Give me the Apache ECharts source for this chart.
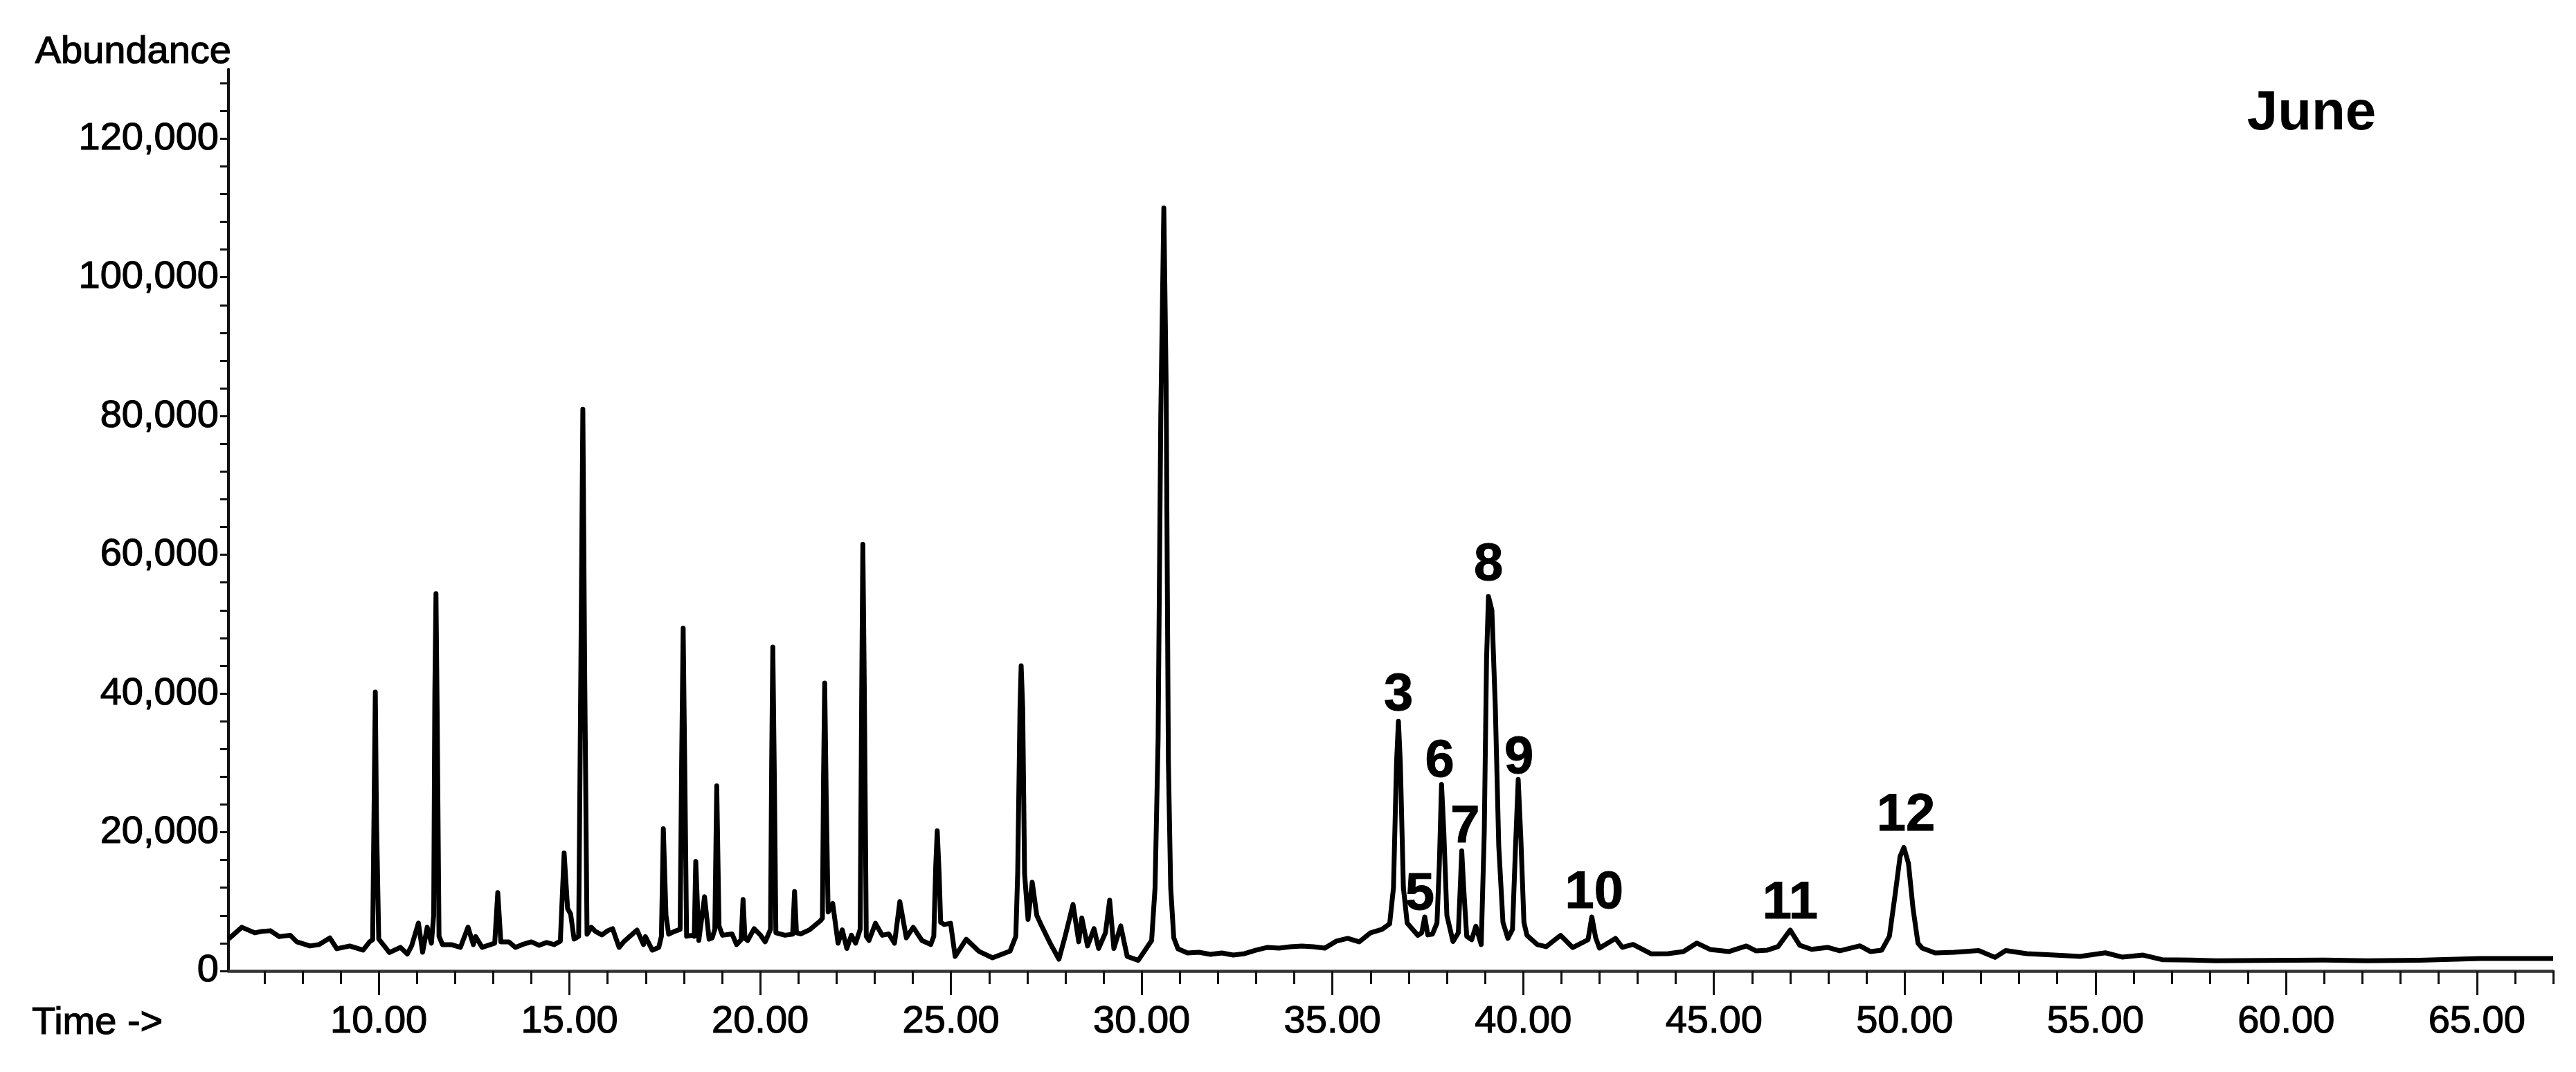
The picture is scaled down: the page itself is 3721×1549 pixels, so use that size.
<!DOCTYPE html>
<html>
<head>
<meta charset="utf-8">
<title>June chromatogram</title>
<script src="https://cdn.jsdelivr.net/npm/echarts@6/dist/echarts.min.js"></script>
<style>
html, body { margin: 0; padding: 0; background: #fff; }
#chart { width: 3721px; height: 1549px; }
</style>
</head>
<body>
<div id="chart"></div>
<script>
// trace: retention time (min) and abundance
const retentionTime = [
  6.06, 6.41, 6.75, 6.93, 7.16, 7.39, 7.68, 7.85, 8.20, 8.43, 8.72, 8.90, 9.24, 9.59, 9.76,
  9.84, 9.88, 9.91, 9.94, 10.00, 10.28, 10.57, 10.75, 10.86, 11.04, 11.15, 11.27, 11.38,
  11.44, 11.47, 11.50, 11.53, 11.58, 11.67, 11.90, 12.14, 12.34, 12.48, 12.54, 12.71,
  13.04, 13.12, 13.20, 13.41, 13.58, 13.76, 14.00, 14.20, 14.40, 14.60, 14.76, 14.86, 14.95,
  15.03, 15.12, 15.24, 15.30, 15.35, 15.40, 15.46, 15.57, 15.68, 15.85, 16.00, 16.13, 16.30,
  16.42, 16.77, 16.94, 16.99, 17.17, 17.34, 17.41, 17.46, 17.53, 17.60, 17.75, 17.90, 17.94,
  17.98, 18.02, 18.07, 18.22, 18.27, 18.31, 18.39, 18.54, 18.66, 18.74, 18.81, 18.86, 18.92,
  19.01, 19.26, 19.38, 19.50, 19.55, 19.60, 19.67, 19.84, 20.01, 20.13, 20.27, 20.30, 20.33,
  20.37, 20.41, 20.65, 20.85, 20.90, 20.95, 21.06, 21.29, 21.58, 21.63, 21.66, 21.69, 21.73,
  21.78, 21.90, 22.04, 22.15, 22.27, 22.39, 22.50, 22.62, 22.66, 22.69, 22.73, 22.78, 22.85,
  23.02, 23.20, 23.37, 23.52, 23.66, 23.83, 24.01, 24.24, 24.47, 24.55, 24.60, 24.64, 24.69,
  24.73, 24.82, 24.99, 25.11, 25.40, 25.74, 26.09, 26.55, 26.70, 26.75, 26.81, 26.84, 26.88,
  26.93, 27.02, 27.13, 27.25, 27.36, 27.60, 27.83, 28.00, 28.20, 28.35, 28.43, 28.58, 28.75,
  28.87, 29.05, 29.16, 29.27, 29.45, 29.62, 29.91, 30.26, 30.35, 30.43, 30.50, 30.58, 30.64,
  30.70, 30.76, 30.84, 30.95, 31.20, 31.50, 31.80, 32.10, 32.40, 32.70, 33.00, 33.30, 33.60,
  33.90, 34.20, 34.50, 34.80, 35.10, 35.40, 35.70, 36.00, 36.30, 36.50, 36.60, 36.68, 36.73,
  36.78, 36.86, 36.96, 37.24, 37.34, 37.42, 37.50, 37.62, 37.74, 37.80, 37.86, 37.92, 38.00,
  38.16, 38.30, 38.35, 38.39, 38.44, 38.52, 38.65, 38.76, 38.90, 38.98, 39.04, 39.09, 39.18,
  39.27, 39.36, 39.47, 39.60, 39.72, 39.80, 39.87, 39.94, 40.02, 40.10, 40.37, 40.60, 40.98,
  41.30, 41.70, 41.80, 41.90, 42.00, 42.42, 42.60, 42.88, 43.35, 43.80, 44.20, 44.55, 44.90,
  45.40, 45.85, 46.10, 46.40, 46.68, 47.00, 47.25, 47.56, 47.98, 48.30, 48.83, 49.10, 49.40,
  49.60, 49.75, 49.88, 49.98, 50.10, 50.22, 50.35, 50.46, 50.80, 51.30, 51.94, 52.37, 52.65,
  53.20, 53.92, 54.60, 55.26, 55.70, 56.25, 56.75, 57.50, 58.16, 59.50, 61.00, 62.12, 63.50,
  65.09, 66.92, 67.00
];
const abundance = [
  4600, 6300, 5500, 5700, 5800, 4950, 5150, 4200, 3600, 3800, 4760, 3200, 3600, 3000, 4200,
  4500, 25000, 40200, 22000, 4600, 2650, 3400, 2450, 3600, 6900, 2700, 6300, 4000,
  8000, 40000, 54400, 38000, 5000, 3800, 3800, 3400, 6300, 3800, 4950, 3400,
  4000, 11300, 4200, 4200, 3400, 3800, 4200, 3700, 4100, 3800, 4300, 17000, 9000,
  8200, 4600, 5000, 45000, 81000, 42000, 5300, 6300, 5700, 5200, 5800, 6100, 3400,
  4200, 5900, 3800, 4950, 3000, 3400, 5000, 20500, 8000, 5300, 5700, 6000, 30000,
  49400, 30000, 5000, 5150, 5000, 15800, 4400, 10700, 4580, 4770, 6000, 26700, 6500,
  5150, 5340, 3800, 4500, 10300, 4700, 4390, 6100, 5150, 4200, 6000, 30000, 46700,
  28000, 5500, 5150, 5300, 11450, 5500, 5340, 5920, 7250, 7600, 28000, 41500, 25000,
  8500, 9730, 4000, 5920, 3240, 5150, 4000, 6000, 40000, 61500, 40000, 5000, 4390,
  6870, 5150, 5340, 4000, 10000, 4770, 6300, 4390, 3820, 5000, 15000, 20200, 14000,
  7000, 6700, 6870, 2100, 4580, 2800, 1900, 2860, 5000, 14300, 38000, 44000, 38000,
  14000, 7440, 12790, 8000, 6680, 4000, 1700, 5150, 9600, 4200, 7630, 3600, 6100,
  3240, 5500, 10200, 3240, 6490, 2100, 1530, 4390, 12000, 33400, 80000, 110000, 85000,
  30000, 12000, 4800, 3200, 2600, 2700, 2400, 2600, 2300, 2500, 3000, 3400, 3300,
  3500, 3600, 3500, 3300, 4300, 4700, 4200, 5500, 6000, 6800, 12000, 30000, 36000,
  30000, 12000, 6900, 5130, 5500, 7790, 5200, 5300, 6900, 15000, 26900, 20000, 8000,
  4240, 5500, 12000, 17300, 12000, 5000, 4500, 6460, 3800, 20000, 45000, 54000, 52000,
  38000, 18000, 7000, 4690, 6000, 18000, 27600, 19000, 7000, 5130, 3800, 3500, 5130,
  3370, 4500, 7790, 4800, 3300, 4690, 3400, 3820, 2480, 2500, 2800, 4020, 3100,
  2800, 3600, 2900, 3000, 3500, 5900, 3700, 3120, 3400, 2900, 3620, 2800, 3000,
  5000, 11000, 16500, 17800, 15500, 9000, 4000, 3290, 2600, 2700, 2950, 1960, 2950,
  2500, 2290, 2100, 2620, 2000, 2290, 1630, 1560, 1480, 1520, 1560, 1460, 1550,
  1800, 1800, 1800
];

// numbered peaks: label text and where the label sits (time, abundance)
const peakNames = ['3', '5', '6', '7', '8', '9', '10', '11', '12'];
const peakLabelTime = [36.73, 37.29, 37.81, 38.48, 39.09, 39.89, 41.86, 47.0, 50.03];
const peakLabelAbundance = [39700, 11000, 30100, 20600, 58500, 30600, 11200, 9700, 22300];

// axis ticks
const majorTimeTicks = [10, 15, 20, 25, 30, 35, 40, 45, 50, 55, 60, 65];
const minorTimeTicks = [7, 8, 9, 11, 12, 13, 14, 16, 17, 18, 19, 21, 22, 23, 24, 26, 27, 28, 29,
  31, 32, 33, 34, 36, 37, 38, 39, 41, 42, 43, 44, 46, 47, 48, 49, 51, 52, 53, 54,
  56, 57, 58, 59, 61, 62, 63, 64, 66, 67];
const abundanceTicks = [0, 4000, 8000, 12000, 16000, 20000, 24000, 28000, 32000, 36000, 40000,
  44000, 48000, 52000, 56000, 60000, 64000, 68000, 72000, 76000, 80000, 84000, 88000, 92000,
  96000, 100000, 104000, 108000, 112000, 116000, 120000, 124000, 128000];
const abundanceLabels = [0, 20000, 40000, 60000, 80000, 100000, 120000];

const font = 'Liberation Sans, Arial, Helvetica, sans-serif';
const ink = '#111';
const withCommas = v => String(v).replace(/\B(?=(\d{3})+(?!\d))/g, ',');
// a thin stroke makes the text as heavy as in the scanned figure
const heavy = { textBorderColor: '#000', textBorderWidth: 1.2 };

const chart = echarts.init(document.getElementById('chart'));
chart.setOption({
  animation: false,
  backgroundColor: '#fff',
  grid: { left: 330, right: 33, top: 100, bottom: 146 },
  xAxis: [
    {
      type: 'value', min: 6.06, max: 67,
      axisLine: { lineStyle: { color: '#333', width: 4.5 } },
      axisTick: { show: true, length: 35, customValues: majorTimeTicks, lineStyle: { color: ink, width: 3 } },
      axisLabel: Object.assign({
        customValues: majorTimeTicks, formatter: v => v.toFixed(2),
        margin: 46, fontSize: 56, color: '#000', fontFamily: font
      }, heavy),
      splitLine: { show: false }
    },
    {
      type: 'value', min: 6.06, max: 67, position: 'bottom',
      axisLine: { show: false },
      axisTick: { show: true, length: 19, customValues: minorTimeTicks, lineStyle: { color: ink, width: 3 } },
      axisLabel: { show: false },
      splitLine: { show: false }
    }
  ],
  yAxis: {
    type: 'value', min: 0, max: 130000,
    axisLine: { show: true, lineStyle: { color: ink, width: 4 } },
    axisTick: { show: true, length: 12, customValues: abundanceTicks, lineStyle: { color: ink, width: 3 } },
    axisLabel: Object.assign({
      customValues: abundanceLabels, formatter: withCommas,
      margin: 14, fontSize: 56, color: '#000', fontFamily: font
    }, heavy),
    splitLine: { show: false }
  },
  series: [
    {
      type: 'line',
      xAxisIndex: 0,
      data: retentionTime.map((t, i) => [t, abundance[i]]),
      showSymbol: false,
      symbol: 'none',
      lineStyle: { color: '#000', width: 7, join: 'round' },
      silent: true
    },
    {
      type: 'scatter',
      xAxisIndex: 0,
      data: peakNames.map((n, i) => ({ name: n, value: [peakLabelTime[i], peakLabelAbundance[i]] })),
      symbolSize: 1,
      itemStyle: { color: 'rgba(255,255,255,0)', opacity: 1 },
      label: {
        show: true, position: 'inside', formatter: '{b}', opacity: 1,
        fontSize: 76, fontWeight: 'bold', color: '#000', fontFamily: font,
        textBorderColor: '#000', textBorderWidth: 1
      },
      silent: true
    }
  ],
  graphic: [
    {
      type: 'text', x: 334, y: 76,
      style: { text: 'Abundance', fontSize: 56, fontFamily: font, fill: '#000', align: 'right', verticalAlign: 'middle', stroke: '#000', lineWidth: 1.2 }
    },
    {
      type: 'text', x: 46, y: 1479,
      style: { text: 'Time ->', fontSize: 56, fontFamily: font, fill: '#000', align: 'left', verticalAlign: 'middle', stroke: '#000', lineWidth: 1.2 }
    },
    {
      type: 'text', x: 3339, y: 165,
      style: { text: 'June', fontSize: 80, fontWeight: 'bold', fontFamily: font, fill: '#000', align: 'center', verticalAlign: 'middle' }
    }
  ]
});
</script>
</body>
</html>
